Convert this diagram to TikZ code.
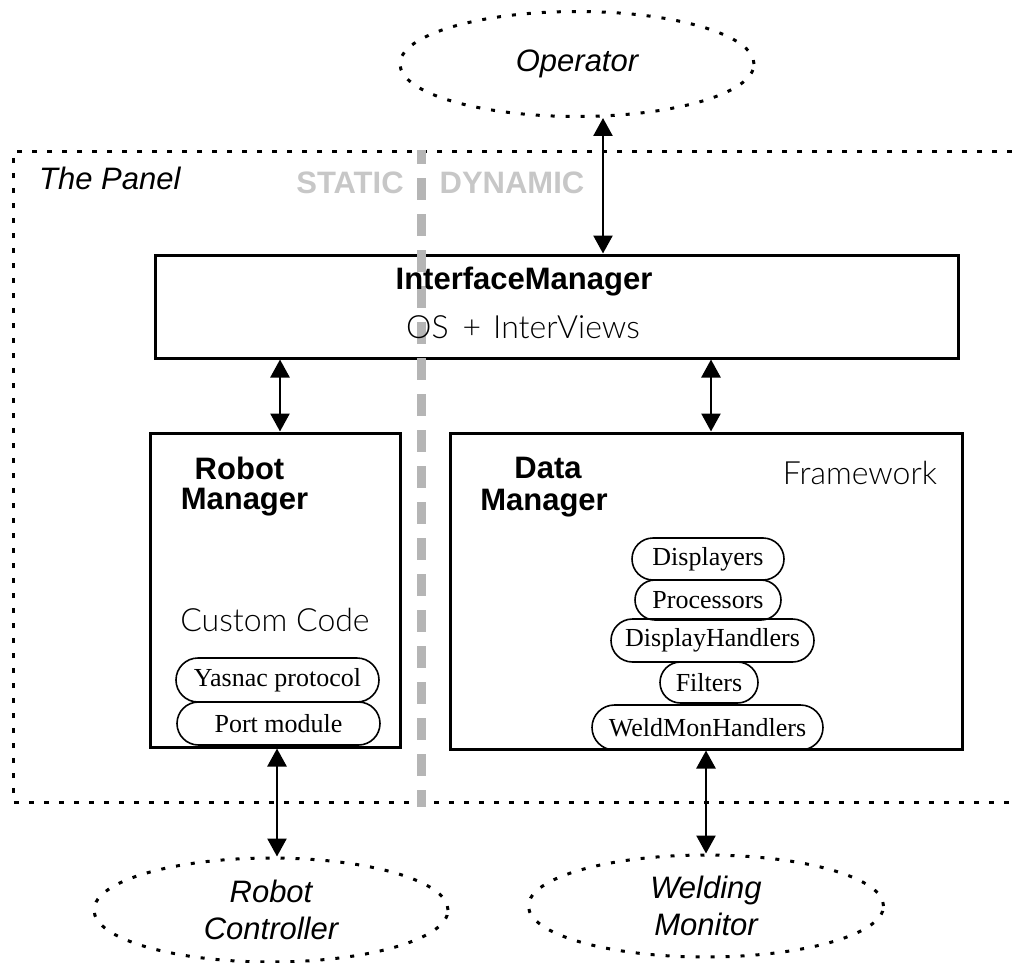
\documentclass[tikz,border=0pt]{standalone}
\usepackage{fontspec}
\setmainfont{Liberation Sans}
\newfontfamily\pillfont{Liberation Serif}
\newfontfamily\thinsans{Lato Light}
\usetikzlibrary{arrows.meta,shapes.geometric,shapes.misc}

\tikzset{
  actor/.style={ellipse, draw, line width=3pt, dash pattern=on 4pt off 11pt,
    inner sep=0pt, align=center, font=\fontsize{31}{37}\selectfont\itshape},
  block/.style={rectangle, draw, line width=3pt, inner sep=0pt},
  pill/.style={rounded rectangle, draw, line width=1.6pt, inner sep=0pt,
    font=\fontsize{26}{30}\pillfont},
  title/.style={font=\fontsize{31}{34}\selectfont\bfseries, inner sep=0pt},
  light/.style={font=\fontsize{32}{36}\thinsans, inner sep=0pt},
  duplex/.style={line width=2.6pt, {Triangle[length=18pt,width=19pt]}-{Triangle[length=18pt,width=19pt]}},
  panelline/.style={line width=3pt, dash pattern=on 5pt off 10pt},
  divider/.style={line width=9pt, draw=black!29, dash pattern=on 22pt off 14pt, dash phase=8pt},
  sidelabel/.style={font=\fontsize{31}{34}\selectfont\bfseries, text=black!22, inner sep=0pt}
}

\begin{document}
\begin{tikzpicture}[x=1pt,y=-1pt]
\useasboundingbox (0,0) rectangle (1012,963);

% the panel boundary (its right side runs off the page)
\draw[panelline] (1012,152) -- (13,152) -- (13,802) -- (1012,802);
\node[anchor=west, inner sep=0pt, font=\fontsize{31}{34}\selectfont\itshape] (panel) at (39,178) {The Panel};

% external actors
\node[actor, minimum width=354pt, minimum height=105pt] (op) at (577,64) {Operator};
\node[actor, minimum width=354pt, minimum height=104pt] (rc) at (271,910) {Robot\\Controller};
\node[actor, minimum width=355pt, minimum height=102pt] (wm) at (706,906) {Welding\\Monitor};

% managers
\node[block, minimum width=803pt, minimum height=103pt] (im) at (556.5,306.5) {};
\node[block, minimum width=250pt, minimum height=314pt] (rm) at (275,590) {};
\node[block, minimum width=512pt, minimum height=316pt] (dm) at (706,591) {};

% static / dynamic divide
\draw[divider] (421,150) -- (421,807);
\node[sidelabel] (st) at (350,183) {STATIC};
\node[sidelabel] (dy) at (512,183) {DYNAMIC};

% interface manager texts
\node[title] (imt) at (524,282) {InterfaceManager};
\node[light] (ims) at (523,327) {OS\hspace{14pt}+\hspace{12pt}InterViews};

% robot manager texts
\node[title] (rmt1) at (239.5,468) {Robot};
\node[title] (rmt2) at (244.5,502) {Manager};
\node[light] (cc) at (275,620) {Custom Code};
\node[pill, minimum width=203pt, minimum height=44pt] (yas) at (277.5,680) {Yasnac protocol};
\node[pill, minimum width=203pt, minimum height=43pt] (port) at (278.5,723.5) {Port module};

% data manager texts
\node[title] (dmt1) at (548,468) {Data};
\node[title] (dmt2) at (544,503) {Manager};
\node[light] (fw) at (860,473) {Framework};
\node[pill, minimum width=152pt, minimum height=42pt] (disp) at (708,559) {Displayers};
\node[pill, minimum width=146pt, minimum height=40pt] (proc) at (708,600) {Processors};
\node[pill, minimum width=203pt, minimum height=43pt] (dh) at (712.5,640.5) {DisplayHandlers};
\node[pill, minimum width=98pt, minimum height=41pt] (filt) at (709,682.5) {Filters};
\node[pill, minimum width=231pt, minimum height=45pt] (wmh) at (707.5,727.5) {WeldMonHandlers};

% connectors
\coordinate (c1) at (603,0);
\coordinate (c2) at (280,0);
\coordinate (c3) at (711,0);
\coordinate (c4) at (277,0);
\coordinate (c5) at (706,0);
\draw[duplex] (im.north -| c1) -- (op.south -| c1);
\draw[duplex] (rm.north -| c2) -- (im.south -| c2);
\draw[duplex] (dm.north -| c3) -- (im.south -| c3);
\draw[duplex] (rm.south -| c4) -- (rc.north -| c4);
\draw[duplex] (dm.south -| c5) -- (wm.north -| c5);
\end{tikzpicture}
\end{document}
